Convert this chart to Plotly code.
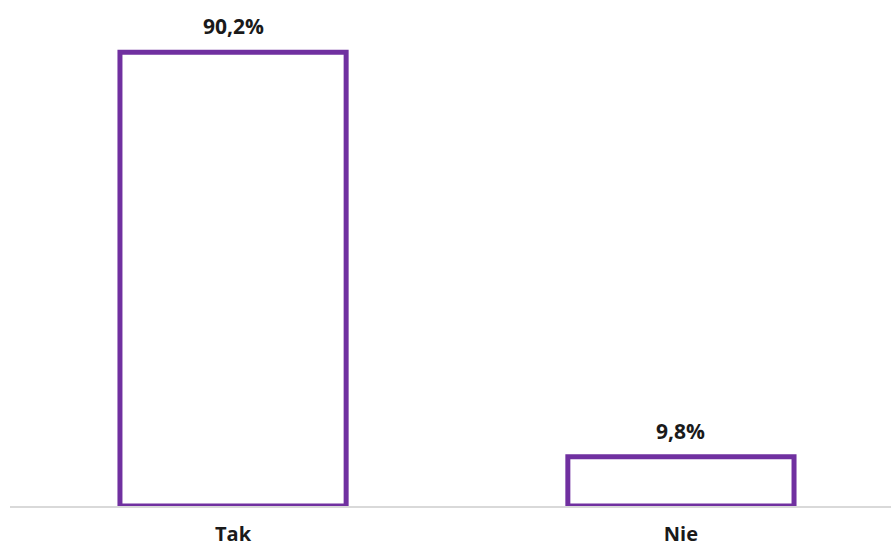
import plotly.graph_objects as go

categories = ["Tak", "Nie"]
values = [90.2, 9.8]
labels = ["90,2%", "9,8%"]

purple = "#7030A0"
font_family = "Open Sans, DejaVu Sans, sans-serif"

fig = go.Figure(
    go.Bar(
        x=categories,
        y=values,
        width=0.505,
        marker=dict(color="white", line=dict(color=purple, width=5)),
        hoverinfo="skip",
    )
)

for cat, val, lab in zip(categories, values, labels):
    fig.add_annotation(
        x=cat, y=val, text=f"<b>{lab}</b>", showarrow=False,
        yanchor="bottom", yshift=10,
        font=dict(family=font_family, size=21, color="#1a1a1a"),
    )

fig.update_layout(
    width=891, height=547,
    margin=dict(l=10, r=0, t=3, b=41),
    plot_bgcolor="white", paper_bgcolor="white",
    showlegend=False,
    xaxis=dict(
        type="category",
        range=[-0.498, 1.469],
        automargin=False,
        showline=True, linecolor="#d9d9d9", linewidth=1.5,
        showgrid=False, zeroline=False,
        ticks="outside", ticklen=9, tickcolor="rgba(0,0,0,0)",
        tickfont=dict(family=font_family, size=20, color="#1a1a1a"),
        tickprefix="<b>", ticksuffix="</b>",
    ),
    yaxis=dict(
        range=[0, 100],
        visible=False,
        automargin=False,
    ),
)

fig.write_html("out.html")
